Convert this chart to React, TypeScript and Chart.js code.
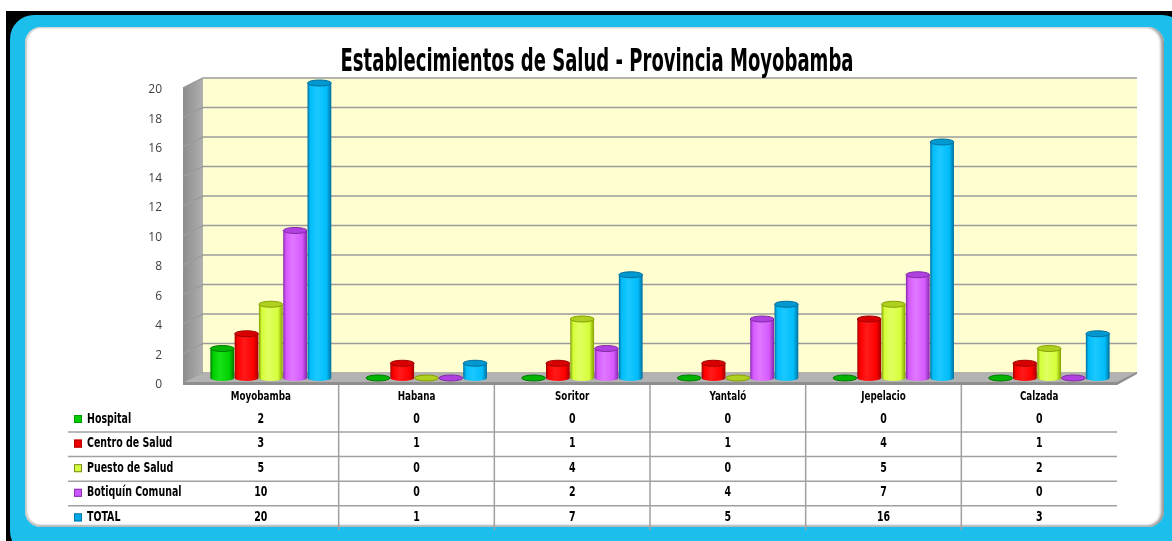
import React, { useEffect, useRef } from "react";
import { Chart, registerables } from "chart.js";

Chart.register(...registerables);

const chartTitle = "Establecimientos de Salud - Provincia Moyobamba";
const categories = ["Moyobamba", "Habana", "Soritor", "Yantaló", "Jepelacio", "Calzada"];
const seriesNames = ["Hospital", "Centro de Salud", "Puesto de Salud", "Botiquín Comunal", "TOTAL"];
const hospital = [2, 0, 0, 0, 0, 0];
const centroDeSalud = [3, 1, 1, 1, 4, 1];
const puestoDeSalud = [5, 0, 4, 0, 5, 2];
const botiquinComunal = [10, 0, 2, 4, 7, 0];
const total = [20, 1, 7, 5, 16, 3];
const yMax = 20;
const yStep = 2;

const seriesValues = [hospital, centroDeSalud, puestoDeSalud, botiquinComunal, total];
const palette = [
  { base: "#00D000", dark: "#007A00", light: "#18E018", cap: "#00B400", key: "#00CC00", keyBorder: "#009900" },
  { base: "#FF0000", dark: "#A00000", light: "#FF1A1A", cap: "#D80000", key: "#F00000", keyBorder: "#B00000" },
  { base: "#D4FF3A", dark: "#86A000", light: "#E0FF60", cap: "#B0D020", key: "#D4FF40", keyBorder: "#7A8A20" },
  { base: "#D659FF", dark: "#8428A8", light: "#E078FF", cap: "#B040E0", key: "#CC55FF", keyBorder: "#8A30B0" },
  { base: "#00BDFA", dark: "#00709E", light: "#1CC8FF", cap: "#0098D0", key: "#00A8E8", keyBorder: "#0078A8" },
];

const NARROW = "'Liberation Sans Narrow', 'DejaVu Sans Condensed', 'Roboto', sans-serif";
const DX = 20;
const DY = -10;
const SQUEEZE = 0.75;

function squeezedText(ctx: any, text: string, x: number, y: number, sx: number) {
  ctx.save();
  ctx.translate(x, y);
  ctx.scale(sx, 1);
  ctx.fillText(text, 0, 0);
  ctx.restore();
}

const scenePlugin = {
  id: "scene3d",
  beforeDatasetsDraw(chart: any) {
    const { ctx, chartArea: a, scales } = chart;
    const ys = scales.y;
    ctx.save();
    // back wall
    ctx.fillStyle = "#FEFED0";
    ctx.fillRect(a.left + DX, a.top + DY, a.right - a.left, a.bottom - a.top);
    // left wall
    const lg = ctx.createLinearGradient(a.left, 0, a.left + DX, 0);
    lg.addColorStop(0, "#8C8C8C");
    lg.addColorStop(1, "#B0B0B0");
    ctx.fillStyle = lg;
    ctx.beginPath();
    ctx.moveTo(a.left, a.top);
    ctx.lineTo(a.left + DX, a.top + DY);
    ctx.lineTo(a.left + DX, a.bottom + DY);
    ctx.lineTo(a.left, a.bottom);
    ctx.closePath();
    ctx.fill();
    // grid lines
    ctx.strokeStyle = "#9C9C9C";
    ctx.lineWidth = 1.5;
    for (let v = 0; v <= yMax; v += yStep) {
      const y = ys.getPixelForValue(v);
      ctx.beginPath();
      ctx.moveTo(a.left, y);
      ctx.lineTo(a.left + DX, y + DY);
      ctx.lineTo(a.right + DX, y + DY);
      ctx.stroke();
    }
    // floor
    ctx.fillStyle = "#B2B2B2";
    ctx.beginPath();
    ctx.moveTo(a.left, a.bottom);
    ctx.lineTo(a.right, a.bottom);
    ctx.lineTo(a.right + DX, a.bottom + DY);
    ctx.lineTo(a.left + DX, a.bottom + DY);
    ctx.closePath();
    ctx.fill();
    ctx.fillStyle = "#8E8E8E";
    ctx.beginPath();
    ctx.moveTo(a.left, a.bottom - 1);
    ctx.lineTo(a.right, a.bottom - 1);
    ctx.lineTo(a.right + DX, a.bottom + DY - 1);
    ctx.lineTo(a.right + DX, a.bottom + DY + 1);
    ctx.lineTo(a.right, a.bottom + 2);
    ctx.lineTo(a.left, a.bottom + 2);
    ctx.closePath();
    ctx.fill();
    ctx.restore();
  },
  afterDatasetsDraw(chart: any) {
    const { ctx } = chart;
    ctx.save();
    chart.data.datasets.forEach((ds: any, i: number) => {
      const meta = chart.getDatasetMeta(i);
      const c = palette[i];
      meta.data.forEach((el: any) => {
        const w = el.width - 0.5;
        const cx = el.x + DX / 2;
        const x0 = cx - w / 2;
        const x1 = cx + w / 2;
        const yTop = el.y + DY / 2;
        const yBot = el.base + DY / 2;
        const rx = w / 2;
        const ry = 3;
        if (yBot - yTop > 0.5) {
          const g = ctx.createLinearGradient(x0, 0, x1, 0);
          g.addColorStop(0, c.dark);
          g.addColorStop(0.12, c.base);
          g.addColorStop(0.4, c.light);
          g.addColorStop(0.8, c.base);
          g.addColorStop(1, c.dark);
          ctx.fillStyle = g;
          ctx.beginPath();
          ctx.moveTo(x0, yTop);
          ctx.lineTo(x0, yBot);
          ctx.ellipse(cx, yBot, rx, ry, 0, Math.PI, 0, true);
          ctx.lineTo(x1, yTop);
          ctx.closePath();
          ctx.fill();
        }
        ctx.fillStyle = c.cap;
        ctx.strokeStyle = c.dark;
        ctx.lineWidth = 1;
        ctx.beginPath();
        ctx.ellipse(cx, yTop, rx, ry, 0, 0, Math.PI * 2);
        ctx.fill();
        ctx.stroke();
      });
    });
    ctx.restore();
  },
  afterDraw(chart: any) {
    const { ctx, chartArea: a, scales } = chart;
    const xs = scales.x;
    ctx.save();
    // title
    ctx.fillStyle = "#000";
    ctx.font = `bold 32px ${NARROW}`;
    ctx.textAlign = "center";
    ctx.textBaseline = "alphabetic";
    ctx.fillText(chartTitle, 597, 71, 513);

    // data table
    const headerY = 397;
    const rowY0 = 419;
    const rowH = 24.6;
    ctx.strokeStyle = "#A0A0A0";
    ctx.lineWidth = 1.5;
    for (let r = 0; r < seriesNames.length - 1; r++) {
      const y = rowY0 + rowH * r + 13;
      ctx.beginPath();
      ctx.moveTo(68, y);
      ctx.lineTo(a.right, y);
      ctx.stroke();
    }
    for (let j = 0; j < categories.length - 1; j++) {
      const x = (xs.getPixelForValue(j) + xs.getPixelForValue(j + 1)) / 2;
      ctx.beginPath();
      ctx.moveTo(x, a.bottom + 2);
      ctx.lineTo(x, 530);
      ctx.stroke();
    }
    ctx.fillStyle = "#000";
    ctx.font = `bold 13px ${NARROW}`;
    ctx.textBaseline = "middle";
    ctx.textAlign = "center";
    categories.forEach((cat, j) => {
      squeezedText(ctx, cat, xs.getPixelForValue(j), headerY, SQUEEZE);
    });
    seriesNames.forEach((name, r) => {
      const y = rowY0 + rowH * r;
      const c = palette[r];
      ctx.fillStyle = c.key;
      ctx.fillRect(74, y - 4, 8, 8);
      ctx.strokeStyle = c.keyBorder;
      ctx.lineWidth = 1;
      ctx.strokeRect(74.5, y - 3.5, 7, 7);
      ctx.fillStyle = "#000";
      ctx.textAlign = "left";
      ctx.font = `bold 14px ${NARROW}`;
      squeezedText(ctx, name, 87, y, SQUEEZE);
      ctx.textAlign = "center";
      ctx.font = `bold 14px ${NARROW}`;
      seriesValues[r].forEach((v, j) => {
        squeezedText(ctx, String(v), xs.getPixelForValue(j), y, SQUEEZE);
      });
    });
    ctx.restore();
  },
};

export default function App() {
  const ref = useRef<HTMLCanvasElement>(null);
  useEffect(() => {
    if (!ref.current) return;
    const chart = new Chart(ref.current, {
      type: "bar",
      data: {
        labels: categories,
        datasets: seriesNames.map((name, i) => ({
          label: name,
          data: seriesValues[i],
          backgroundColor: "rgba(0,0,0,0)",
          borderWidth: 0,
          categoryPercentage: 0.78,
          barPercentage: 1,
        })),
      },
      options: {
        animation: false,
        responsive: false,
        devicePixelRatio: 1,
        layout: { padding: { left: 143, right: 55, top: 88, bottom: 158 }, autoPadding: false },
        scales: {
          x: { display: false, grid: { display: false } },
          y: {
            min: 0,
            max: yMax,
            grid: { display: false },
            border: { display: false },
            ticks: {
              stepSize: yStep,
              padding: 13,
              labelOffset: 2,
              color: "#404040",
              font: { family: "'Open Sans', sans-serif", size: 12 },
            },
            afterFit: (s: any) => {
              s.width = 40;
            },
          },
        },
        plugins: {
          legend: { display: false },
          tooltip: { enabled: false },
          title: { display: false },
        },
      },
      plugins: [scenePlugin],
    } as any);
    return () => chart.destroy();
  }, []);
  return (
    <div style={{ position: "fixed", left: 0, top: 0, width: 1172, height: 541, background: "#fff", overflow: "hidden" }}>
      <div style={{ position: "absolute", left: 6, top: 11, width: 1180, height: 540, background: "#000" }} />
      <div style={{ position: "absolute", left: 10, top: 15, width: 1176, height: 540, background: "#1CBEEC", borderRadius: 24 }} />
      <div
        style={{
          position: "absolute",
          left: 25,
          top: 27,
          width: 1139,
          height: 500,
          background: "#fff",
          borderRadius: 16,
          boxShadow: "inset 2px 0 2px #c8c8c8, inset -3px 0 3px #999, inset 0 -2px 2px #bbb",
        }}
      />
      <canvas ref={ref} width={1172} height={541} style={{ position: "absolute", left: 0, top: 0 }} />
    </div>
  );
}
